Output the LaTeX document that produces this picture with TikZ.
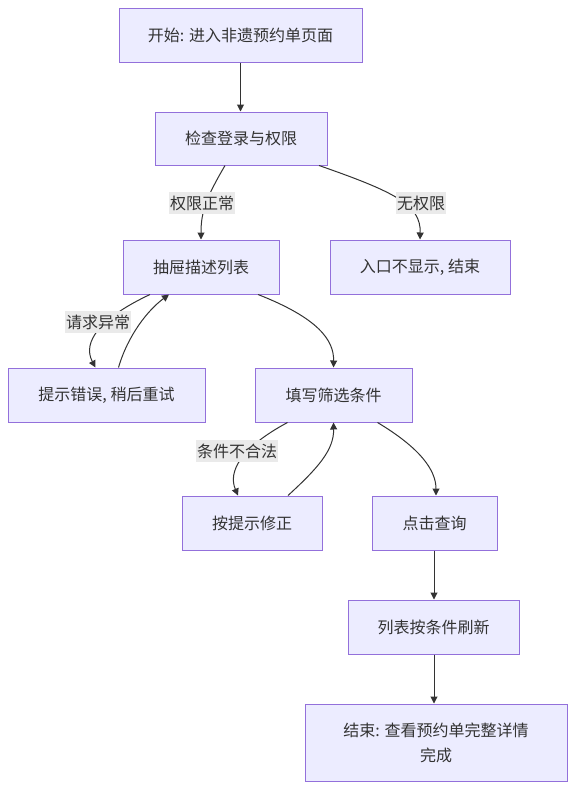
\documentclass[tikz,border=0pt]{standalone}
\usepackage{fontspec}
\setmainfont{Noto Sans CJK SC}
\usetikzlibrary{arrows.meta}
\definecolor{nodefill}{HTML}{ECECFF}
\definecolor{nodeborder}{HTML}{9370DB}
\definecolor{edgecol}{HTML}{333333}
\definecolor{labelbg}{HTML}{EAEAEA}
\begin{document}
\begin{tikzpicture}[x=1pt,y=-1pt,
  box/.style={draw=nodeborder, fill=nodefill, line width=1pt, inner sep=0pt, text=edgecol, font=\fontsize{16}{25}\selectfont, align=center},
  elabel/.style={fill=labelbg, inner sep=1pt, text=edgecol, font=\fontsize{16}{20}\selectfont, minimum height=22pt},
  flow/.style={draw=edgecol, line width=1pt, -{Triangle[length=7pt,width=7pt]}}]
\useasboundingbox (0,0) rectangle (572,790);
% nodes
\node[box, minimum width=243pt, minimum height=54pt] (start) at (240.5,35) {开始: 进入非遗预约单页面};
\node[box, minimum width=172pt, minimum height=53pt] (check) at (241,138.5) {检查登录与权限};
\node[box, minimum width=156pt, minimum height=54pt] (drawer) at (201,267) {抽屉描述列表};
\node[box, minimum width=180pt, minimum height=54pt] (noperm) at (420,267) {入口不显示, 结束};
\node[box, minimum width=197pt, minimum height=54pt] (error) at (106.5,395) {提示错误, 稍后重试};
\node[box, minimum width=157pt, minimum height=54pt] (fill) at (333.5,395) {填写筛选条件};
\node[box, minimum width=140pt, minimum height=54pt] (fix) at (252,523) {按提示修正};
\node[box, minimum width=125pt, minimum height=54pt] (query) at (434.5,523) {点击查询};
\node[box, minimum width=171pt, minimum height=54pt] (refresh) at (433.5,627) {列表按条件刷新};
\node[box, minimum width=262pt, minimum height=77pt] (end) at (436,742.5) {结束: 查看预约单完整详情\\完成};
% edges
\draw[flow] (start.south) -- (start.south |- check.north);
\draw[flow] ([xshift=-16pt]check.south) .. controls (206,198) and (201,212) .. (drawer.north);
\draw[flow] ([xshift=78pt]check.south) .. controls (395,192) and (421,205) .. (noperm.north);
\draw[flow] ([xshift=-51pt]drawer.south) .. controls (100,318) and (82,342) .. ([xshift=-11pt]error.north);
\draw[flow] ([xshift=12pt]error.north) .. controls (128,335) and (148,310) .. ([xshift=-32pt]drawer.south);
\draw[flow] ([xshift=57pt]drawer.south) .. controls (318,318) and (334,340) .. (fill.north);
\draw[flow] ([xshift=-46pt]fill.south) .. controls (240,448) and (228,472) .. ([xshift=-14pt]fix.north);
\draw[flow] ([xshift=36pt]fix.north) .. controls (318,468) and (334,450) .. (fill.south);
\draw[flow] ([xshift=44pt]fill.south) .. controls (420,448) and (436,470) .. ([xshift=1.5pt]query.north);
\draw[flow] ([xshift=-0.5pt]query.south) -- ([xshift=-0.5pt]query.south |- refresh.north);
\draw[flow] ([xshift=0.5pt]refresh.south) -- ([xshift=0.5pt]refresh.south |- end.north);
% edge labels
\node[elabel] (l1) at (202,203) {权限正常};
\node[elabel] (l2) at (421,203) {无权限};
\node[elabel] (l3) at (98,322) {请求异常};
\node[elabel] (l4) at (237,451) {条件不合法};
\end{tikzpicture}
\end{document}
